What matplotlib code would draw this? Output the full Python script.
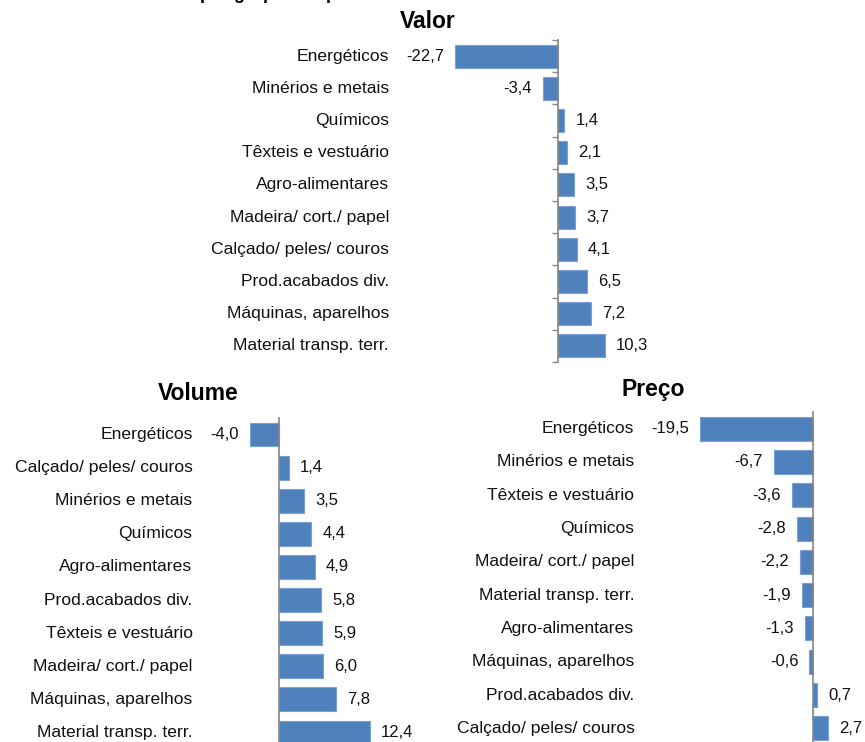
import matplotlib
matplotlib.use("Agg")
import matplotlib.pyplot as plt
import matplotlib.transforms as mtrans

plt.rcParams['font.family'] = ['Liberation Sans', 'DejaVu Sans']

valor_cats = ["Energéticos", "Minérios e metais", "Químicos", "Têxteis e vestuário",
              "Agro-alimentares", "Madeira/ cort./ papel", "Calçado/ peles/ couros",
              "Prod.acabados div.", "Máquinas, aparelhos", "Material transp. terr."]
valor_vals = [-22.7, -3.4, 1.4, 2.1, 3.5, 3.7, 4.1, 6.5, 7.2, 10.3]

volume_cats = ["Energéticos", "Calçado/ peles/ couros", "Minérios e metais", "Químicos",
               "Agro-alimentares", "Prod.acabados div.", "Têxteis e vestuário",
               "Madeira/ cort./ papel", "Máquinas, aparelhos", "Material transp. terr."]
volume_vals = [-4.0, 1.4, 3.5, 4.4, 4.9, 5.8, 5.9, 6.0, 7.8, 12.4]

preco_cats = ["Energéticos", "Minérios e metais", "Têxteis e vestuário", "Químicos",
              "Madeira/ cort./ papel", "Material transp. terr.", "Agro-alimentares",
              "Máquinas, aparelhos", "Prod.acabados div.", "Calçado/ peles/ couros"]
preco_vals = [-19.5, -6.7, -3.6, -2.8, -2.2, -1.9, -1.3, -0.6, 0.7, 2.7]

W, H = 865, 742
fig = plt.figure(figsize=(W / 100, H / 100), dpi=100)

BAR = '#4F81BD'
EDGE = '#7AA1D2'
AXC = '#868686'
FS = 12.6


def px_axes(x0, y0, x1, y1):
    return fig.add_axes([x0 / W, 1 - y1 / H, (x1 - x0) / W, (y1 - y0) / H])


def panel(box, cats, vals, xlim, title, title_xy, ticks):
    ax = px_axes(*box)
    n = len(cats)
    ypos = list(range(n))
    ax.barh(ypos, vals, height=0.72, color=BAR, edgecolor=EDGE, linewidth=0.8, zorder=2)
    ax.set_xlim(*xlim)
    ax.set_ylim(n - 0.5, -0.5)
    for s in ['top', 'right', 'bottom']:
        ax.spines[s].set_visible(False)
    ax.spines['left'].set_position(('data', 0))
    ax.spines['left'].set_color(AXC)
    ax.spines['left'].set_linewidth(1.2)
    ax.spines['left'].set_zorder(3)
    ax.set_xticks([])
    if ticks:
        ax.set_yticks([i - 0.5 for i in range(n + 1)])
        ax.tick_params(axis='y', length=4, width=1, color=AXC, direction='out', labelleft=False)
    else:
        ax.set_yticks([])
    tr = mtrans.blended_transform_factory(ax.transAxes, ax.transData)
    for i, c in enumerate(cats):
        ax.text(-0.02, i, c, transform=tr, ha='right', va='center', fontsize=FS, color='#111111')
    for i, v in enumerate(vals):
        lbl = f"{v:.1f}".replace('.', ',')
        if v >= 0:
            ax.annotate(lbl, (v, i), xytext=(8, 0), textcoords='offset points',
                        ha='left', va='center', fontsize=FS - 0.6, color='#111111')
        else:
            ax.annotate(lbl, (v, i), xytext=(-8, 0), textcoords='offset points',
                        ha='right', va='center', fontsize=FS - 0.6, color='#111111')
    fig.text(title_xy[0] / W, 1 - title_xy[1] / H, title, ha='center', va='center',
             fontsize=16.5, fontweight='bold')
    return ax


panel((395, 40, 700, 362), valor_cats, valor_vals, (-35.9, 31.3), "Valor", (428, 22), True)
panel((197, 418, 420, 749), volume_cats, volume_vals, (-11.2, 19.3), "Volume", (198, 393), False)
panel((639, 412, 865, 745), preco_cats, preco_vals, (-30.0, 9.0), "Preço", (653, 390), False)

fig.text(200 / W, 1 + 1 / H, "por grupos de produtos", ha='left', va='baseline',
         fontsize=13, fontweight='bold')

fig.savefig("out.png", dpi=100)
